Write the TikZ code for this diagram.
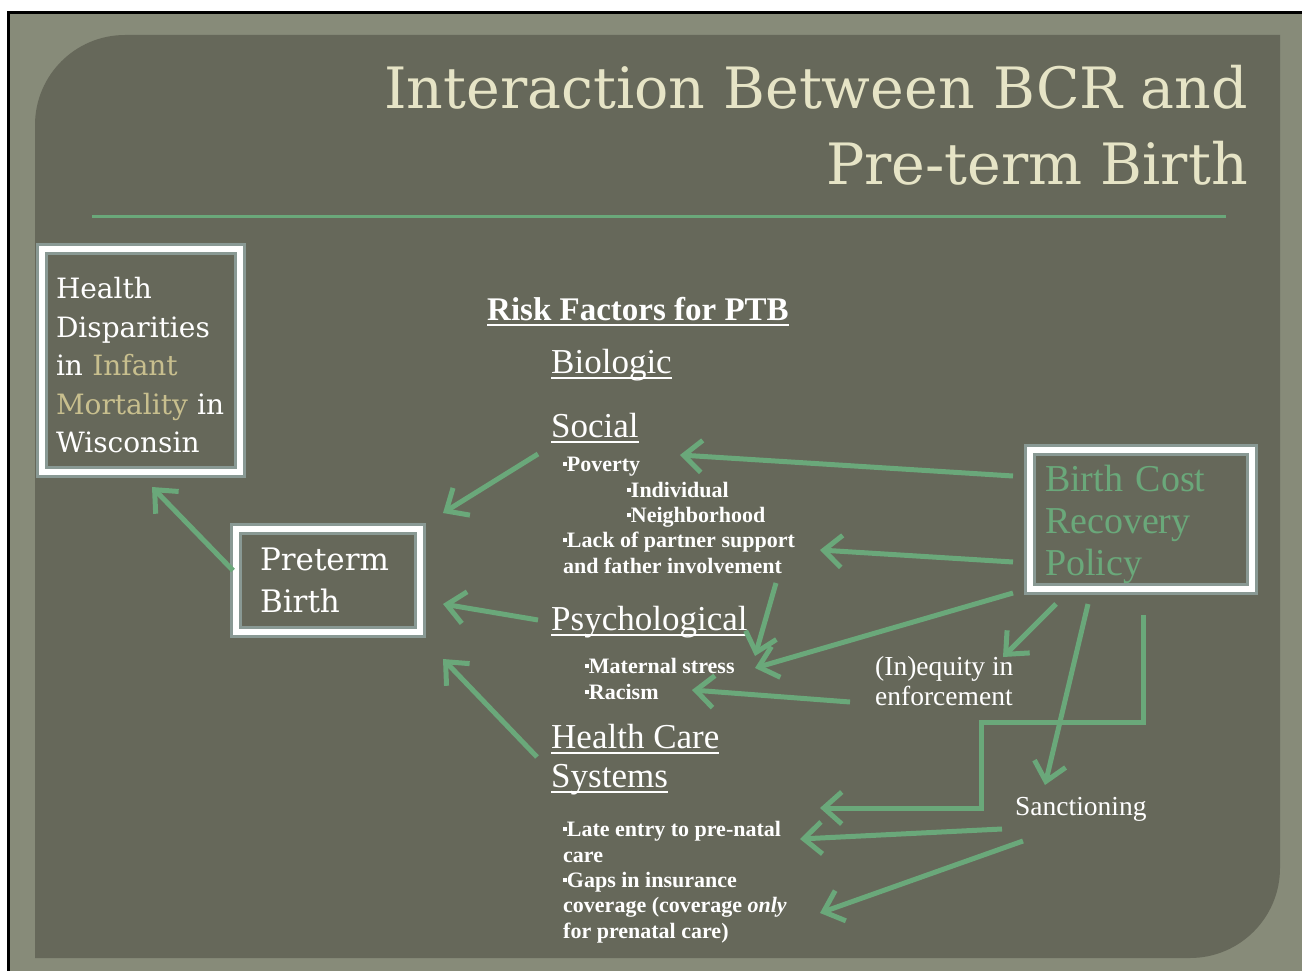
\documentclass[tikz,border=0pt]{standalone}
\usepackage{fontspec}
\usepackage{tikz}
\usetikzlibrary{arrows.meta, positioning}
\newfontfamily\rockfont{DejaVu Serif}
\newfontfamily\palfont{Liberation Serif}

\definecolor{panelc}{HTML}{66685A}
\definecolor{outerc}{HTML}{878B79}
\definecolor{greenc}{HTML}{6AA87A}
\definecolor{creamc}{HTML}{E6E4C6}
\definecolor{tanc}{HTML}{C8BF8E}
\definecolor{glowc}{HTML}{A6C2C4}

\newcommand{\undl}[1]{\setbox0\hbox{#1}\rlap{\rule[-0.17em]{\wd0}{0.06em}}\box0}
\newcommand{\bul}{\raisebox{0.25em}{\rule{0.17em}{0.17em}}}

\tikzstyle{titletext} = [font=\rockfont\fontsize{57}{77}\selectfont, text=creamc, align=right, inner sep=0pt]
\tikzstyle{bigbox} = [rectangle, draw=white, line width=6pt, preaction={draw=glowc, line width=12pt, opacity=0.55}, align=left, inner ysep=0pt]
\tikzstyle{head} = [font=\palfont\fontsize{35}{39}\selectfont, text=white, inner sep=0pt, anchor=base west, align=left]
\tikzstyle{item} = [font=\palfont\bfseries\fontsize{22}{25.5}\selectfont, text=white, inner sep=0pt, anchor=base west, align=left]
\tikzstyle{policy} = [font=\palfont\fontsize{27.5}{30}\selectfont, text=white, inner sep=0pt, anchor=base west, align=left]
\tikzstyle{arrow} = [draw=greenc, line width=5pt, -{Straight Barb[length=18pt,width=32pt]}]

\begin{document}
\begin{tikzpicture}[x=1pt, y=-1pt]
	\useasboundingbox (0,0) rectangle (1302,971);
	% slide background
	\fill[white] (0,0) rectangle (1302,971);
	\fill[outerc] (10,14) rectangle (1302,971);
	\draw[black, line width=3pt] (8.5,971) -- (8.5,12.5) -- (1302,12.5);
	\fill[panelc] (35,958) -- (35,125) arc[start angle=180, end angle=270, radius=90]
		-- (1280,35) -- (1280,868) arc[start angle=0, end angle=90, radius=90] -- cycle;

	% title (multi-line nodes sit on their last baseline)
	\node (title) [titletext, anchor=base east] at (1248,185) {Interaction Between BCR and\\ Pre-term Birth};
	\draw[greenc, line width=3pt] (92,216) -- (1226,216);

	% boxes
	\node (hd) [bigbox, font=\rockfont\fontsize{28}{38.5}\selectfont, text=white, minimum width=198pt, minimum height=223pt, text width=170pt, inner xsep=14pt] at (141,360.5)
		{\rule{0pt}{31pt}Health\\ Disparities\\ in \textcolor{tanc}{Infant}\\ \textcolor{tanc}{Mortality} in\\ Wisconsin};
	\node (pb) [bigbox, font=\rockfont\fontsize{31}{42}\selectfont, text=white, minimum width=184pt, minimum height=103pt, text width=136pt, inner xsep=24pt] at (328,580.5)
		{Preterm\\ Birth};
	\node (bcr) [bigbox, font=\palfont\fontsize{38}{42}\selectfont, text=greenc, minimum width=222pt, minimum height=139pt, text width=192pt, inner xsep=15pt] at (1141,519.5)
		{\rule{0pt}{36pt}Birth Cost\\ Recovery\\ Policy};

	% risk factors
	\node (risk) [head, font=\palfont\bfseries\fontsize{33}{39}\selectfont] at (487,320) {\undl{Risk Factors for PTB}};
	\node (bio) [head] at (551,373) {\undl{Biologic}};
	\node (social) [head] at (551,437) {\undl{Social}};
	\node (poverty) [item] at (563,471) {\bul Poverty};
	\node (indiv) [item] at (627,497) {\bul Individual};
	\node (neigh) [item] at (627,522) {\bul Neighborhood};
	\node (lack) [item] at (563,573) {\bul Lack of partner support\\ and father involvement};
	\node (psych) [head] at (551,630) {\undl{Psychological}};
	\node (stress) [item] at (585,673) {\bul Maternal stress};
	\node (racism) [item] at (585,699) {\bul Racism};
	\node (hcs) [head] at (551,787) {\undl{Health Care}\\ \undl{Systems}};
	\node (late) [item] at (563,862) {\bul Late entry to pre-natal\\ care};
	\node (gaps) [item] at (563,938) {\bul Gaps in insurance\\ coverage (coverage \textit{only}\\ for prenatal care)};

	% policy effects
	\node (ineq) [policy] at (875,705) {(In)equity in\\ enforcement};
	\node (sanc) [policy] at (1015,815) {Sanctioning};

	% arrows into preterm birth
	\draw[arrow] ([shift={(0,-10)}]pb.west) -- ([shift={(11,12)}]hd.south);
	\draw[arrow] ([shift={(-13,17)}]social.base west) -- ([shift={(20,-13)}]pb.north east);
	\draw[arrow] ([shift={(-13,-10)}]psych.base west) -- ([shift={(20,23.5)}]pb.east);
	\draw[arrow] ([shift={(-14,-30)}]hcs.base west) -- ([shift={(20,24)}]pb.south east);

	% arrows from the policy
	\draw[arrow] ([shift={(-14,-43.5)}]bcr.west) -- ([shift={(117,-16)}]poverty.base west);
	\draw[arrow] ([shift={(-14,42.5)}]bcr.west) -- ([shift={(257,-23)}]lack.base west);
	\draw[arrow] ([shift={(-14,1)}]bcr.south west) -- ([shift={(170,-5)}]stress.base west);
	\draw[arrow] ([shift={(213,10)}]lack.base west) -- ([shift={(170,-17)}]stress.base west);
	\draw[arrow] ([shift={(29,12)}]bcr.south west) -- ([shift={(128,-48)}]ineq.base west);
	\draw[arrow] ([shift={(61,12)}]bcr.south west) -- ([shift={(30,-30)}]sanc.base west);
	\draw[arrow] ([shift={(2,23)}]bcr.south) -- ++(0,107) -- ++(-162,0) |- ([shift={(257,-54)}]late.base west);
	\draw[arrow] ([shift={(-25,-3)}]ineq.base west) -- ([shift={(107,-9)}]racism.base west);
	\draw[arrow] ([shift={(-13,14)}]sanc.base west) -- ([shift={(237,-23)}]late.base west);
	\draw[arrow] ([shift={(8,26)}]sanc.base west) -- ([shift={(257,-25)}]gaps.base west);
\end{tikzpicture}
\end{document}
